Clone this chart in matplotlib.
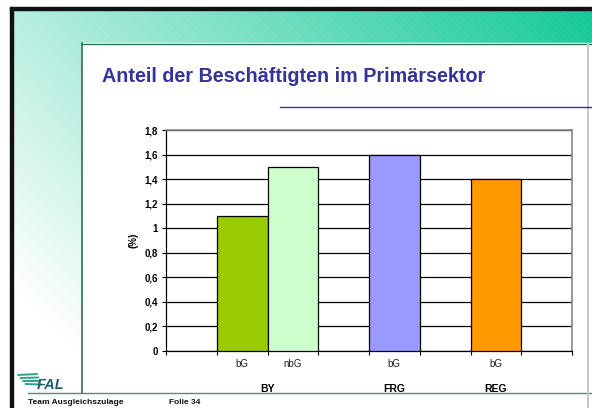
import numpy as np
import matplotlib
matplotlib.use('Agg')
import matplotlib.pyplot as plt
from matplotlib.patches import Rectangle
from matplotlib.ticker import FuncFormatter, MultipleLocator

plt.rcParams['font.family'] = ['Liberation Sans', 'DejaVu Sans']

# chart data (Excel-like category slots, blanks are empty slots)
slot_labels = ['', 'bG', 'nbG', '', 'bG', '', 'bG', '']
slot_groups = ['BY', 'BY', 'BY', 'BY', 'FRG', 'FRG', 'REG', 'REG']
slot_values = [None, 1.1, 1.5, None, 1.6, None, 1.4, None]
slot_colors = [None, '#99CC00', '#CCFFCC', None, '#9999FF', None, '#FF9900', None]
group_names = ['BY', 'FRG', 'REG']

title = 'Anteil der Beschäftigten im Primärsektor'
ylabel = '(%)'
footer_left = 'Team Ausgleichszulage'
footer_right = 'Folie 34'

W, H = 592, 408
fig = plt.figure(figsize=(W / 100, H / 100), dpi=100)

# background in pixel coordinates
bg = fig.add_axes([0, 0, 1, 1])
bg.set_xlim(0, W)
bg.set_ylim(H, 0)
bg.axis('off')

yy, xx = np.mgrid[0:H, 0:W]
s = 0.3 + 0.7 * xx / W - 0.45 * yy / H
s = np.clip(s, 0, 1)
teal = np.array([16, 200, 150]) / 255
img = 1 - s[..., None] * (1 - teal)
# faint diagonal hatching
hatch = ((xx - yy) % 6 == 0)
img[hatch] = img[hatch] * 0.95 + 0.05
bg.imshow(img, extent=(0, W, H, 0), aspect='auto', zorder=0)

# white outer margins (top/left) and content area
bg.add_patch(Rectangle((0, 0), W, 7, color='white', zorder=1))
bg.add_patch(Rectangle((0, 0), 10, H, color='white', zorder=1))
bg.add_patch(Rectangle((82, 43), W - 82, H - 43, color='white', zorder=1))
bg.add_patch(Rectangle((13, 393), 69, H - 393, color='white', zorder=1))
# black frame
bg.add_patch(Rectangle((10, 7), W - 10, 3, color='#111111', zorder=2))
bg.add_patch(Rectangle((10, 7), 3, H - 7, color='#111111', zorder=2))
# content borders
bg.plot([82, 82], [43, 393], color='#2e6e5a', lw=1.2, zorder=3)
bg.plot([82, W], [43.5, 43.5], color='#2e6e5a', lw=1.0, zorder=3)
bg.plot([28, W], [393, 393], color='#4a8f7a', lw=1.0, zorder=3)
bg.plot([588, 588], [44, H], color='#c8c8c8', lw=1.5, zorder=3)
bg.plot([280, W], [107, 107], color='#333399', lw=1.0, zorder=3)

bg.text(102, 77, title, fontsize=14.2, fontweight='bold', color='#333399',
        va='center', ha='left', zorder=4)

# FAL logo
for k in range(4):
    bg.plot([18 + k * 2.5, 37 + k * 1.5], [375 + k * 3, 374 + k * 3.5],
            color='#2aa58a', lw=1.4, zorder=4, solid_capstyle='round')
bg.text(37, 385, 'FAL', fontsize=10.5, fontweight='bold', style='italic',
        color='#1f6070', va='center', ha='left', zorder=4)

bg.text(28, 403, footer_left, fontsize=6, fontweight='bold', color='#111111',
        va='center', ha='left', zorder=4)
bg.text(169, 403, footer_right, fontsize=6, fontweight='bold', color='#111111',
        va='center', ha='left', zorder=4)

# chart axes
x0, x1, y0, y1 = 166, 572, 130, 351
ax = fig.add_axes([x0 / W, (H - y1) / H, (x1 - x0) / W, (y1 - y0) / H])
ax.set_facecolor('white')
n = len(slot_labels)
for i, (v, c) in enumerate(zip(slot_values, slot_colors)):
    if v is not None:
        ax.bar(i, v, width=1, align='edge', color=c, edgecolor='black',
               linewidth=0.9, zorder=3)
ax.set_xlim(0, n)
ax.set_ylim(0, 1.8)
ax.yaxis.set_major_locator(MultipleLocator(0.2))
ax.yaxis.set_major_formatter(FuncFormatter(
    lambda v, p: ('%g' % round(v, 1)).replace('.', ',')))
ax.grid(axis='y', color='black', lw=0.9, zorder=0)
ax.set_axisbelow(True)
ax.set_xticks(range(n + 1))
ax.set_xticklabels([])
ax.set_xticks(np.arange(n) + 0.5, minor=True)
ax.set_xticklabels(slot_labels, minor=True)
ax.tick_params(axis='x', which='major', direction='out', length=3, width=0.8)
ax.tick_params(axis='x', which='minor', length=0, pad=6, labelsize=7,
               labelcolor='#222222')
ax.tick_params(axis='y', direction='out', length=3, width=0.8, pad=3)
for t in ax.get_yticklabels():
    t.set_fontsize(7)
    t.set_fontweight('bold')
for sp in ['top', 'right']:
    ax.spines[sp].set_color('#888888')
    ax.spines[sp].set_linewidth(1.2)
for sp in ['left', 'bottom']:
    ax.spines[sp].set_color('black')
    ax.spines[sp].set_linewidth(0.9)
ax.set_ylabel(ylabel, fontsize=7, fontweight='bold', labelpad=4)

trans = ax.get_xaxis_transform()
for g in group_names:
    idx = [i for i in range(n) if slot_groups[i] == g and slot_values[i] is not None]
    cx = np.mean(idx) + 0.5
    ax.text(cx, -0.17, g, transform=trans, ha='center', va='center',
            fontsize=7.5, fontweight='bold')

fig.savefig('out.png', dpi=100)
